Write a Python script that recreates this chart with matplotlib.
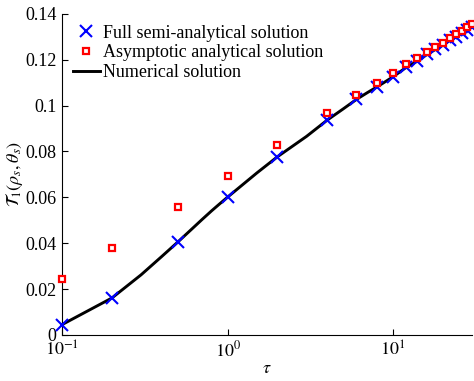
import matplotlib
matplotlib.use('Agg')
import matplotlib.pyplot as plt
from matplotlib.ticker import FixedLocator, FixedFormatter, NullLocator

plt.rcParams['font.family'] = ['Liberation Serif', 'DejaVu Serif']
plt.rcParams['mathtext.fontset'] = 'stix'

# full semi-analytical solution (blue x)
tau_full = [0.1, 0.2, 0.5, 1, 2, 4, 6, 8, 10, 12, 14, 16, 18, 20, 22, 24, 26, 28, 30]
t_full = [0.0045, 0.0161, 0.0405, 0.0601, 0.0777, 0.0937, 0.1027, 0.1082, 0.1126,
          0.1167, 0.1194, 0.1223, 0.1245, 0.1264, 0.1285, 0.1301, 0.1315, 0.1330, 0.1343]

# asymptotic analytical solution (red squares)
tau_asym = [0.1, 0.2, 0.5, 1, 2, 4, 6, 8, 10, 12, 14, 16, 18, 20, 22, 24, 26, 28, 30]
t_asym = [0.0244, 0.0379, 0.0559, 0.0693, 0.0828, 0.0966, 0.1046, 0.1097, 0.1143,
          0.1180, 0.1206, 0.1235, 0.1256, 0.1275, 0.1296, 0.1312, 0.1326, 0.1341, 0.1354]

# numerical solution (black line)
tau_num = [0.1, 0.2, 0.3, 0.4, 0.5, 0.6, 0.7, 0.8, 0.9, 1, 1.5, 2, 3, 4, 5, 6, 7, 8, 9,
           10, 12, 14, 16, 18, 20, 22, 24, 26, 28, 30]
t_num = [0.0045, 0.0161, 0.0262, 0.0342, 0.0405, 0.0458, 0.0503, 0.0541, 0.0573, 0.0601,
         0.0706, 0.0777, 0.0866, 0.0937, 0.0986, 0.1027, 0.1057, 0.1082, 0.1105,
         0.1126, 0.1167, 0.1194, 0.1223, 0.1245, 0.1264, 0.1285, 0.1301, 0.1315, 0.1330, 0.1343]

y_ticks = [0, 0.02, 0.04, 0.06, 0.08, 0.1, 0.12, 0.14]
y_labels = ['0', '0.02', '0.04', '0.06', '0.08', '0.1', '0.12', '0.14']
x_ticks = [0.1, 1, 10]
x_labels = [r'$10^{-1}$', r'$10^{0}$', r'$10^{1}$']

fig = plt.figure(figsize=(4.74, 3.81), dpi=100)
ax = fig.add_axes([0.131, 0.121, 0.865, 0.8425])

ax.plot(tau_num, t_num, color='black', lw=2.1, label='Numerical solution', zorder=2)
ax.plot(tau_full, t_full, 'x', color='blue', ms=9, mew=1.5, ls='none',
        label='Full semi-analytical solution', zorder=3, clip_on=False)
ax.plot(tau_asym, t_asym, 's', color='red', mfc='white', mec='red', ms=4, mew=1.6, ls='none',
        label='Asymptotic analytical solution', zorder=4, clip_on=False)

ax.set_xscale('log')
ax.set_xlim(0.1, 30)
ax.set_ylim(0, 0.14)
ax.xaxis.set_major_locator(FixedLocator(x_ticks))
ax.xaxis.set_major_formatter(FixedFormatter(x_labels))
ax.xaxis.set_minor_locator(NullLocator())
ax.yaxis.set_major_locator(FixedLocator(y_ticks))
ax.yaxis.set_major_formatter(FixedFormatter(y_labels))

for s in ['top', 'right']:
    ax.spines[s].set_visible(False)
ax.tick_params(direction='in', length=4, labelsize=13, pad=4)

ax.set_xlabel(r'$\tau$', fontsize=13, labelpad=0)
ax.set_ylabel(r'$\mathcal{T}_1(\rho_s,\theta_s)$', fontsize=13, labelpad=0)

h, l = ax.get_legend_handles_labels()
order = [1, 2, 0]
ax.legend([h[i] for i in order], [l[i] for i in order], loc='upper left',
          bbox_to_anchor=(0.0, 1.0), frameon=False, fontsize=13,
          handlelength=1.5, handletextpad=0.15, labelspacing=0.15, borderaxespad=0.2)

fig.savefig('out.png', dpi=100)
